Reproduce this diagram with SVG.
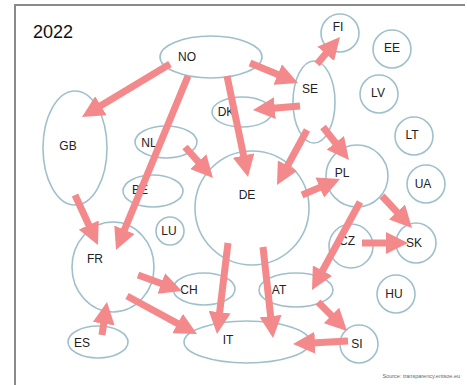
<svg xmlns="http://www.w3.org/2000/svg" width="467" height="385" viewBox="0 0 467 385">
<style>
.n{fill:none;stroke:#9fc0cb;stroke-width:1.6}
.t{font-family:"Liberation Sans",Arial,sans-serif;font-size:12px;fill:#222;text-anchor:middle;dominant-baseline:central}
.c line{stroke:#f4898b;stroke-width:7;marker-end:url(#ah)}
</style>
<defs>
<marker id="ah" markerUnits="userSpaceOnUse" markerWidth="22" markerHeight="22" viewBox="0 0 22 22" refX="8" refY="11" orient="auto">
<path d="M0,0 L22,11 L0,22 z" fill="#f4898b"/>
</marker>
</defs>
<rect width="467" height="385" fill="#fff"/>
<path d="M15,385 V5 H465" fill="none" stroke="#8a8a8a" stroke-width="2"/>
<text x="33" y="32" font-family="Liberation Sans,Arial,sans-serif" font-size="18" fill="#111" dominant-baseline="central">2022</text>
<text x="460" y="378" font-family="Liberation Sans,Arial,sans-serif" font-size="5.5" fill="#666" text-anchor="end">Source: transparency.entsoe.eu</text>

<g id="NO"><ellipse class="n" cx="211" cy="57" rx="51" ry="21"/><text class="t" x="187" y="57">NO</text></g>
<g id="GB"><ellipse class="n" cx="75" cy="148" rx="32" ry="57"/><text class="t" x="68" y="146">GB</text></g>
<g id="NL"><ellipse class="n" cx="166" cy="142" rx="31" ry="16"/><text class="t" x="149" y="143">NL</text></g>
<g id="DK"><ellipse class="n" cx="242" cy="112" rx="30" ry="15"/><text class="t" x="226" y="112">DK</text></g>
<g id="FI"><circle class="n" cx="340" cy="33" r="19"/><text class="t" x="338" y="27">FI</text></g>
<g id="EE"><circle class="n" cx="392" cy="49" r="19"/><text class="t" x="392" y="48">EE</text></g>
<g id="SE"><ellipse class="n" cx="314" cy="102" rx="21" ry="41"/><text class="t" x="310" y="89">SE</text></g>
<g id="LV"><circle class="n" cx="379" cy="94" r="19"/><text class="t" x="378" y="93">LV</text></g>
<g id="LT"><circle class="n" cx="414" cy="136" r="19"/><text class="t" x="412" y="135">LT</text></g>
<g id="PL"><circle class="n" cx="357" cy="176" r="31"/><text class="t" x="342" y="173">PL</text></g>
<g id="UA"><circle class="n" cx="426" cy="184" r="19"/><text class="t" x="423" y="184">UA</text></g>
<g id="DE"><circle class="n" cx="252" cy="208" r="57"/><text class="t" x="247" y="195">DE</text></g>
<g id="BE"><ellipse class="n" cx="153" cy="191" rx="30" ry="16"/><text class="t" x="140" y="190">BE</text></g>
<g id="LU"><circle class="n" cx="170" cy="231" r="14"/><text class="t" x="169" y="231">LU</text></g>
<g id="FR"><ellipse class="n" cx="113" cy="267" rx="41" ry="45"/><text class="t" x="95" y="259">FR</text></g>
<g id="CH"><ellipse class="n" cx="204" cy="289" rx="31" ry="16"/><text class="t" x="189" y="290">CH</text></g>
<g id="ES"><ellipse class="n" cx="98" cy="342" rx="30" ry="16"/><text class="t" x="82" y="343">ES</text></g>
<g id="IT"><ellipse class="n" cx="247" cy="342" rx="63" ry="21"/><text class="t" x="228" y="340">IT</text></g>
<g id="CZ"><circle class="n" cx="351" cy="246" r="22"/><text class="t" x="347" y="241">CZ</text></g>
<g id="SK"><circle class="n" cx="416" cy="243" r="20"/><text class="t" x="414" y="243">SK</text></g>
<g id="AT"><ellipse class="n" cx="296" cy="290" rx="37" ry="17"/><text class="t" x="279" y="290">AT</text></g>
<g id="HU"><circle class="n" cx="396" cy="294" r="19"/><text class="t" x="394" y="294">HU</text></g>
<g id="SI"><circle class="n" cx="359" cy="344" r="19"/><text class="t" x="357" y="344">SI</text></g>

<g class="c" id="connectors">
<line x1="170" y1="64" x2="94" y2="109.8"/>
<line x1="188" y1="76" x2="121.4" y2="237.1"/>
<line x1="227" y1="76" x2="245.2" y2="163.3"/>
<line x1="250" y1="63" x2="285.1" y2="77.6"/>
<line x1="317" y1="64" x2="330.9" y2="47.7"/>
<line x1="300" y1="106" x2="266.9" y2="108.8"/>
<line x1="307" y1="130" x2="283.7" y2="172.7"/>
<line x1="323" y1="127" x2="340.3" y2="149"/>
<line x1="185" y1="147" x2="203.6" y2="167.6"/>
<line x1="302" y1="195" x2="327.1" y2="184.4"/>
<line x1="382" y1="196" x2="402.4" y2="217.8"/>
<line x1="360" y1="202" x2="318.7" y2="277.7"/>
<line x1="362" y1="243" x2="394" y2="243"/>
<line x1="318" y1="302" x2="337.1" y2="321.1"/>
<line x1="348" y1="341" x2="307" y2="343.2"/>
<line x1="263" y1="247" x2="271.5" y2="324.1"/>
<line x1="228" y1="243" x2="218.7" y2="320.1"/>
<line x1="75" y1="195" x2="92.1" y2="232.3"/>
<line x1="138" y1="275" x2="168.8" y2="286.2"/>
<line x1="127" y1="296" x2="184.7" y2="327.3"/>
<line x1="102" y1="335" x2="104.9" y2="315.8"/>
</g>
</svg>
